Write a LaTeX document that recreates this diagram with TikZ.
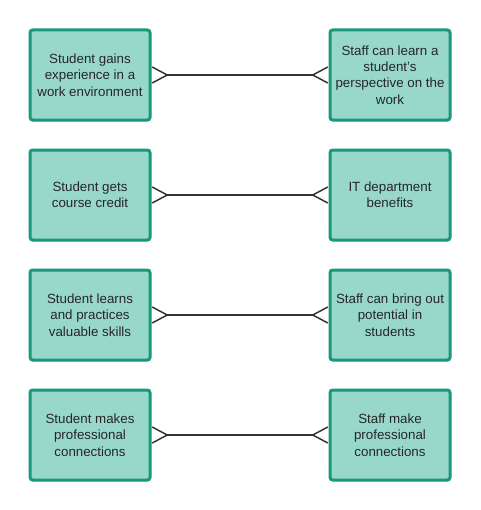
\documentclass[tikz,border=0pt]{standalone}
\usepackage{fontspec}
\setmainfont{Liberation Sans}
\usetikzlibrary{arrows.meta,shadows}

\definecolor{boxfill}{RGB}{152,216,202}
\definecolor{boxedge}{RGB}{26,152,124}
\definecolor{linkgray}{RGB}{51,51,51}

\tikzset{
  benefit/.style={draw=boxedge, fill=boxfill, line width=2.25, rounded corners=2,
    minimum width=90pt, minimum height=67.5pt, align=center,
    font=\fontsize{10}{12.2}\selectfont, text=black!85,
    drop shadow={shadow xshift=1pt, shadow yshift=-1.2pt, opacity=0.25}},
  crow/.style={draw=linkgray, line width=1.1,
    {Straight Barb[reversed,length=11.25pt,width=12pt]}-{Straight Barb[reversed,length=11.25pt,width=12pt]}}
}

\begin{document}
\begin{tikzpicture}[x=0.75pt,y=0.75pt,yscale=-1,xscale=1]
\useasboundingbox (0,0) rectangle (480,510);

%Student side
\node [benefit] (s1) at (90,75) {Student gains\\experience in a\\work environment};
\node [benefit] (s2) at (90,195) {Student gets\\course credit};
\node [benefit] (s3) at (90,315) {Student learns\\and practices\\valuable skills};
\node [benefit] (s4) at (90,435) {Student makes\\professional\\connections};

%Staff side
\node [benefit] (f1) at (390,75) {Staff can learn a\\student's\\perspective on the\\work};
\node [benefit] (f2) at (390,195) {IT department\\benefits};
\node [benefit] (f3) at (390,315) {Staff can bring out\\potential in\\students};
\node [benefit] (f4) at (390,435) {Staff make\\professional\\connections};

%Links
\draw [crow] (s1) -- (f1);
\draw [crow] (s2) -- (f2);
\draw [crow] (s3) -- (f3);
\draw [crow] (s4) -- (f4);

\end{tikzpicture}
\end{document}
